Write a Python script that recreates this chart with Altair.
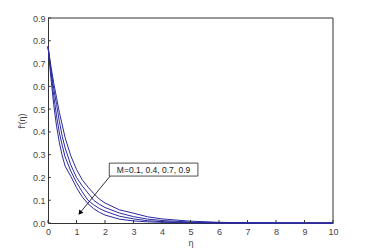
import altair as alt
import pandas as pd

eta = [0, 0.1, 0.2, 0.3, 0.4, 0.5, 0.6, 0.8, 1.0, 1.2, 1.4, 1.6, 1.8, 2.0, 2.5, 3.0, 3.5, 4.0, 5.0, 6.0, 7.0, 8.0, 10.0]
f_m01 = [0.775, 0.69, 0.615, 0.55, 0.485, 0.43, 0.375, 0.295, 0.235, 0.19, 0.158, 0.13, 0.105, 0.088, 0.058, 0.043, 0.027, 0.018, 0.008, 0.003, 0.001, 0.0, 0.0]
f_m04 = [0.775, 0.675, 0.59, 0.52, 0.445, 0.38, 0.33, 0.255, 0.2, 0.163, 0.132, 0.1, 0.082, 0.068, 0.044, 0.028, 0.017, 0.011, 0.004, 0.0015, 0.0005, 0.0, 0.0]
f_m07 = [0.775, 0.66, 0.56, 0.47, 0.395, 0.34, 0.29, 0.228, 0.178, 0.137, 0.1, 0.08, 0.064, 0.052, 0.03, 0.018, 0.01, 0.006, 0.002, 0.0007, 0.0, 0.0, 0.0]
f_m09 = [0.775, 0.64, 0.52, 0.425, 0.352, 0.295, 0.25, 0.205, 0.155, 0.115, 0.085, 0.063, 0.047, 0.035, 0.017, 0.009, 0.005, 0.003, 0.001, 0.0, 0.0, 0.0, 0.0]
series = {"0.1": f_m01, "0.4": f_m04, "0.7": f_m07, "0.9": f_m09}

x_ticks = [0, 1, 2, 3, 4, 5, 6, 7, 8, 9, 10]
y_ticks = [0, 0.1, 0.2, 0.3, 0.4, 0.5, 0.6, 0.7, 0.8, 0.9]
label_text = "M=0.1, 0.4, 0.7, 0.9"

rows = []
for m, vals in series.items():
    for e, v in zip(eta, vals):
        rows.append({"eta": e, "f": v, "M": m})
df = pd.DataFrame(rows)

FONT = "Liberation Sans"
xs = alt.Scale(domain=[0, 10], nice=False)
ys = alt.Scale(domain=[0, 0.9], nice=False)
xax = alt.Axis(values=x_ticks, tickSize=0, labelPadding=4, grid=False, labelOverlap=False,
               labelFlush=False, domainColor="#333", titlePadding=2)
yax = alt.Axis(values=y_ticks, tickSize=0, labelPadding=3, grid=False, labelOverlap=False,
               labelFlush=False, domainColor="#333", titlePadding=6)


def X(field):
    return alt.X(field, scale=xs, axis=xax, title="η")


def Y(field):
    return alt.Y(field, scale=ys, axis=yax, title="f'(η)")


lines = alt.Chart(df).mark_line(color="#2a2aa0", strokeWidth=1).encode(
    x=X("eta:Q"), y=Y("f:Q"), detail="M:N")

xt = pd.DataFrame({"x": x_ticks, "y0": [0] * len(x_ticks), "y1": [0.013] * len(x_ticks)})
xtick = alt.Chart(xt).mark_rule(color="#333", strokeWidth=1).encode(
    x=X("x:Q"), y=Y("y0:Q"), y2="y1:Q")
yt = pd.DataFrame({"y": y_ticks, "x0": [0] * len(y_ticks), "x1": [0.1] * len(y_ticks)})
ytick = alt.Chart(yt).mark_rule(color="#333", strokeWidth=1).encode(
    y=Y("y:Q"), x=X("x0:Q"), x2="x1:Q")

frame = pd.DataFrame({"x0": [0, 10], "x1": [10, 10], "y0": [0.9, 0], "y1": [0.9, 0.9]})
frame_rules = alt.Chart(frame).mark_rule(color="#333", strokeWidth=1).encode(
    x=X("x0:Q"), x2="x1:Q", y=Y("y0:Q"), y2="y1:Q")

arrow = pd.DataFrame({"x0": [2.18], "y0": [0.206], "x1": [1.12], "y1": [0.044]})
arrow_line = alt.Chart(arrow).mark_rule(color="black", strokeWidth=0.8).encode(
    x=X("x0:Q"), y=Y("y0:Q"), x2="x1:Q", y2="y1:Q")
arrow_head = alt.Chart(arrow).mark_point(shape="triangle-up", filled=True, color="black",
                                         size=28, angle=219, opacity=1).encode(
    x=X("x1:Q"), y=Y("y1:Q"))

box = pd.DataFrame({"x0": [2.15], "x1": [5.26], "y0": [0.206], "y1": [0.263],
                    "xc": [3.705], "yc": [0.2345], "t": [label_text]})
box_rect = alt.Chart(box).mark_rect(fill="white", stroke="#222", strokeWidth=0.8).encode(
    x=X("x0:Q"), x2="x1:Q", y=Y("y0:Q"), y2="y1:Q")
box_text = alt.Chart(box).mark_text(font=FONT, fontSize=8.5, color="#222").encode(
    x=X("xc:Q"), y=Y("yc:Q"), text="t:N")

chart = alt.layer(lines, xtick, ytick, frame_rules, arrow_line, arrow_head, box_rect, box_text).properties(
    width=285, height=205,
    autosize=alt.AutoSizeParams(type="none"),
    padding={"left": 48, "top": 18, "right": 35, "bottom": 28},
    background="white",
).configure_view(stroke=None).configure_axis(
    labelFont=FONT, titleFont=FONT, labelFontSize=9, titleFontSize=9,
    labelColor="#444", titleColor="#444", titleFontWeight="normal",
)

chart.save("out.html", embed_options={"renderer": "svg", "actions": False})
